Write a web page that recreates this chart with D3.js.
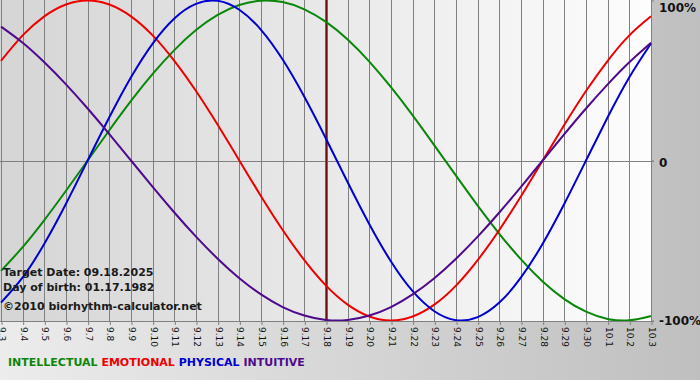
<!DOCTYPE html>
<html><head><meta charset="utf-8">
<script src="https://cdn.jsdelivr.net/npm/d3@7"></script>
<style>html,body{margin:0;padding:0;overflow:hidden;}svg{display:block;}</style>
</head><body>
<svg id="chart" width="700" height="380"></svg>
<script>
const dates = ["9.3","9.4","9.5","9.6","9.7","9.8","9.9","9.10","9.11","9.12","9.13","9.14","9.15","9.16","9.17","9.18","9.19","9.20","9.21","9.22","9.23","9.24","9.25","9.26","9.27","9.28","9.29","9.30","10.1","10.2","10.3"];
const intellectual = [-0.690,-0.541,-0.372,-0.189,0,0.189,0.372,0.541,0.690,0.815,0.910,0.972,0.999,0.990,0.945,0.866,0.756,0.618,0.458,0.282,0.095,-0.095,-0.282,-0.458,-0.618,-0.756,-0.866,-0.945,-0.990,-0.999,-0.972];
const emotional = [0.623,0.782,0.901,0.975,1.000,0.975,0.901,0.782,0.623,0.434,0.223,0,-0.223,-0.434,-0.623,-0.782,-0.901,-0.975,-1.000,-0.975,-0.901,-0.782,-0.623,-0.434,-0.223,0,0.223,0.434,0.623,0.782,0.901];
const physical = [-0.888,-0.731,-0.520,-0.270,0,0.270,0.520,0.731,0.888,0.979,0.998,0.942,0.817,0.631,0.398,0.136,-0.136,-0.398,-0.631,-0.817,-0.942,-0.998,-0.979,-0.888,-0.731,-0.520,-0.270,0,0.270,0.520,0.731];
const intuitive = [0.837,0.736,0.614,0.476,0.325,0.165,0,-0.165,-0.325,-0.476,-0.614,-0.736,-0.837,-0.916,-0.969,-0.997,-0.997,-0.969,-0.916,-0.837,-0.736,-0.614,-0.476,-0.325,-0.165,0,0.165,0.325,0.476,0.614,0.736];
const seriesNames = ["INTELLECTUAL","EMOTIONAL","PHYSICAL","INTUITIVE"];
const seriesColors = ["#0a870a","#ee0000","#0000d0","#4f0a8c"];
const yTicks = [1,0,-1];
const yTickLabels = ["100%","0","-100%"];
const targetDate = "9.18";
const infoLines = ["Target Date: 09.18.2025","Day of birth: 01.17.1982","\u00a92010 biorhythm-calculator.net"];

const svg = d3.select("#chart");
const W = 700, H = 380;
const plot = {left:0, right:652, top:0, bottom:321};

const defs = svg.append("defs");
const bgGrad = defs.append("linearGradient").attr("id","bgGrad").attr("x1","0").attr("x2","1").attr("y1","0").attr("y2","0");
bgGrad.append("stop").attr("offset","0%").attr("stop-color","#ececec");
bgGrad.append("stop").attr("offset","100%").attr("stop-color","#bfbfbf");
const plotGrad = defs.append("linearGradient").attr("id","plotGrad").attr("x1","0").attr("x2","1").attr("y1","0").attr("y2","0");
plotGrad.append("stop").attr("offset","0%").attr("stop-color","#d5d5d5");
plotGrad.append("stop").attr("offset","100%").attr("stop-color","#fdfdfd");
defs.append("clipPath").attr("id","clip").append("rect")
  .attr("x",plot.left).attr("y",plot.top).attr("width",plot.right-plot.left).attr("height",plot.bottom-plot.top);

svg.append("rect").attr("width",W).attr("height",H).attr("fill","url(#bgGrad)");
svg.append("rect").attr("x",plot.left).attr("y",plot.top).attr("width",plot.right-plot.left).attr("height",plot.bottom-plot.top).attr("fill","url(#plotGrad)");

const x = d3.scalePoint().domain(dates).range([1, 651]);
const y = d3.scaleLinear().domain([-1,1]).range([320.5, 0.5]);

// vertical grid
svg.append("g").selectAll("line").data(dates).join("line")
  .attr("x1",d=>Math.round(x(d))+0.5).attr("x2",d=>Math.round(x(d))+0.5)
  .attr("y1",plot.top).attr("y2",plot.bottom)
  .attr("stroke","#808080").attr("stroke-width",1);
// horizontal lines
svg.append("g").selectAll("line").data([0,-1]).join("line")
  .attr("x1",plot.left).attr("x2",plot.right+2)
  .attr("y1",d=>Math.round(y(d))+0.5).attr("y2",d=>Math.round(y(d))+0.5)
  .attr("stroke","#808080").attr("stroke-width",1);

// bottom axis
const xAxis = d3.axisBottom(x).tickSize(4).tickSizeOuter(0).tickPadding(3);
const gx = svg.append("g").attr("transform",`translate(0.5,${plot.bottom})`).call(xAxis);
gx.select(".domain").remove();
gx.selectAll(".tick line").attr("stroke","#808080");
gx.selectAll(".tick text")
  .attr("transform","rotate(90)")
  .attr("x",6).attr("y",0).attr("dy","0.32em")
  .attr("text-anchor","start")
  .attr("font-family","'DejaVu Sans', Verdana, sans-serif")
  .attr("font-size","9px").attr("fill","#111");

// right axis
const yAxis = d3.axisRight(y).tickValues(yTicks).tickSize(2).tickPadding(5)
  .tickFormat(d=>yTickLabels[yTicks.indexOf(d)]);
const gy = svg.append("g").attr("transform",`translate(${plot.right},0)`).call(yAxis);
gy.select(".domain").remove();
gy.selectAll(".tick line").attr("stroke","#808080");
gy.selectAll(".tick text")
  .attr("font-family","'DejaVu Sans', Verdana, sans-serif")
  .attr("font-weight","bold").attr("font-size","12px").attr("fill","#111")
  .attr("dy",d=> d===1 ? "0.95em" : (d===0 ? "0.5em" : "0.35em"));

// curves
const series = [intellectual, emotional, physical, intuitive];
const line = d3.line().x((d,i)=>x(dates[i])).y(d=>y(d)).curve(d3.curveNatural);

// target date line
svg.append("line")
  .attr("x1",x(targetDate)+0.5).attr("x2",x(targetDate)+0.5)
  .attr("y1",plot.top).attr("y2",plot.bottom)
  .attr("stroke","#c06060").attr("stroke-width",3);
svg.append("line")
  .attr("x1",x(targetDate)+0.5).attr("x2",x(targetDate)+0.5)
  .attr("y1",plot.top).attr("y2",plot.bottom)
  .attr("stroke","#6a1010").attr("stroke-width",1.5);

const gc = svg.append("g").attr("clip-path","url(#clip)");
gc.selectAll("path").data(series).join("path")
  .attr("d",line).attr("fill","none")
  .attr("stroke",(d,i)=>seriesColors[i]).attr("stroke-width",2);

// info text
svg.append("g").selectAll("text").data(infoLines).join("text")
  .attr("x",3).attr("y",(d,i)=>[276,291,310][i])
  .attr("font-family","'DejaVu Sans', Verdana, sans-serif")
  .attr("font-weight","bold").attr("font-size","11px").attr("fill","#1a1a1a")
  .text(d=>d);

// legend
const legend = svg.append("text").attr("x",8).attr("y",366)
  .attr("font-family","'DejaVu Sans', Verdana, sans-serif")
  .attr("font-weight","bold").attr("font-size","11px");
seriesNames.forEach((n,i)=>{
  legend.append("tspan").attr("fill",seriesColors[i]).text((i>0?" ":"")+n);
});
</script>
</body></html>
